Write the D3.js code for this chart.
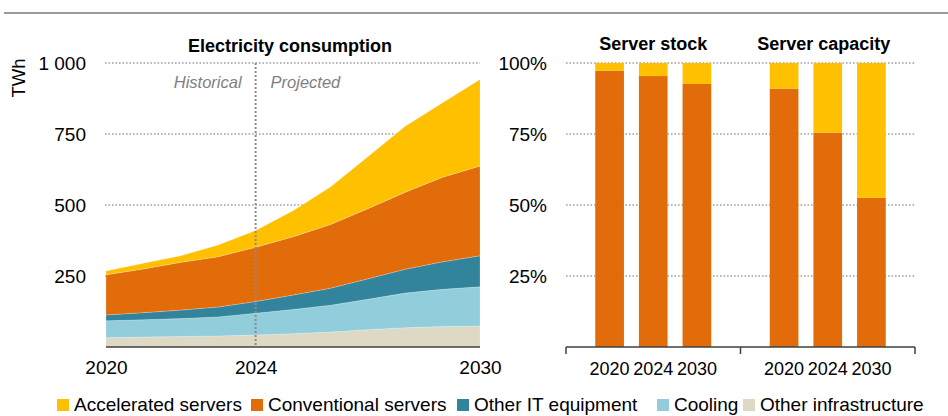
<!DOCTYPE html>
<html>
<head>
<meta charset="utf-8">
<script src="https://cdn.jsdelivr.net/npm/d3@7"></script>
<style>
  body { margin: 0; background: #fff; }
  svg { display: block; font-family: "Liberation Sans", Arial, sans-serif; }
</style>
</head>
<body>
<svg id="chart" width="948" height="416"></svg>
<script>
// electricity consumption by data centre component, TWh
var years = [2020, 2021, 2022, 2023, 2024, 2025, 2026, 2027, 2028, 2029, 2030];
var otherInfrastructure = [33, 35, 37, 39, 42, 47, 53, 61, 68, 72, 74];
var cooling = [59, 61, 63, 67, 77, 85, 94, 107, 122, 131, 138];
var otherIT = [21, 25, 30, 35, 41, 51, 60, 72, 84, 97, 109];
var conventional = [141, 154, 168, 177, 191, 205, 224, 247, 271, 298, 316];
var accelerated = [14, 20, 23, 41, 59, 92, 132, 183, 232, 262, 305];

// server shares (% conventional, rest is accelerated)
var barYears = ["2020", "2024", "2030"];
var barGroups = ["Server stock", "Server capacity"];
var stockConventional = [97.3, 95.4, 92.6];
var capacityConventional = [91, 75.5, 52.5];

var leftTicks = [250, 500, 750, 1000];
var xTicks = [2020, 2024, 2030];
var rightTicks = [25, 50, 75, 100];

var seriesNames = ["Other infrastructure", "Cooling", "Other IT equipment", "Conventional servers", "Accelerated servers"];
var legendNames = ["Accelerated servers", "Conventional servers", "Other IT equipment", "Cooling", "Other infrastructure"];
var colors = {
  "Accelerated servers": "#ffc000",
  "Conventional servers": "#e26b0a",
  "Other IT equipment": "#31849b",
  "Cooling": "#92cddc",
  "Other infrastructure": "#ddd9c4"
};

var svg = d3.select("#chart");
var gridColor = "#a0a0a0";
var fmt = d3.formatLocale({ decimal: ".", thousands: " ", grouping: [3], currency: ["", ""] }).format(",");

// top rule
svg.append("line")
  .attr("x1", 4).attr("x2", 948).attr("y1", 13).attr("y2", 13)
  .attr("stroke", "#999").attr("stroke-width", 2);

//// left: stacked area
var x = d3.scaleLinear().domain([2020, 2030]).range([106, 480]);
var y = d3.scaleLinear().domain([0, 1000]).range([347, 63]);

var rows = years.map(function (yr, i) {
  return {
    year: yr,
    "Other infrastructure": otherInfrastructure[i],
    "Cooling": cooling[i],
    "Other IT equipment": otherIT[i],
    "Conventional servers": conventional[i],
    "Accelerated servers": accelerated[i]
  };
});
var stacked = d3.stack().keys(seriesNames)(rows);

var left = svg.append("g");

left.selectAll(".grid")
  .data(leftTicks)
  .join("line")
  .attr("class", "grid")
  .attr("x1", 105).attr("x2", 480)
  .attr("y1", d => y(d)).attr("y2", d => y(d))
  .attr("stroke", gridColor).attr("stroke-width", 1.6)
  .attr("stroke-dasharray", "1.6,1.9");

var area = d3.area()
  .x(d => x(d.data.year))
  .y0(d => y(d[0]))
  .y1(d => y(d[1]));

left.selectAll(".layer")
  .data(stacked)
  .join("path")
  .attr("class", "layer")
  .attr("d", area)
  .attr("fill", d => colors[d.key])
  .attr("stroke", "#fff").attr("stroke-opacity", 0.35).attr("stroke-width", 0.6);

// historical / projected divider
left.append("line")
  .attr("x1", x(2024)).attr("x2", x(2024))
  .attr("y1", y(1000)).attr("y2", y(0))
  .attr("stroke", "#8c8c8c").attr("stroke-width", 2)
  .attr("stroke-dasharray", "2,2");

left.append("text")
  .attr("x", x(2024) - 14).attr("y", 88)
  .attr("text-anchor", "end")
  .attr("font-style", "italic").attr("font-size", 16.5).attr("fill", "#7f7f7f")
  .text("Historical");
left.append("text")
  .attr("x", x(2024) + 15).attr("y", 88)
  .attr("font-style", "italic").attr("font-size", 16.5).attr("fill", "#7f7f7f")
  .text("Projected");

// baseline
left.append("line")
  .attr("x1", 106).attr("x2", 480).attr("y1", y(0)).attr("y2", y(0))
  .attr("stroke", "#404040").attr("stroke-width", 1.5);

var yAxis = d3.axisLeft(y).tickValues(leftTicks).tickSize(0).tickPadding(0).tickFormat(fmt);
left.append("g")
  .attr("transform", "translate(86,0)")
  .call(yAxis)
  .call(g => g.select(".domain").remove())
  .selectAll("text")
  .attr("font-size", 19).attr("fill", "#000").attr("font-family", "Liberation Sans, Arial, sans-serif");

var xAxis = d3.axisBottom(x).tickValues(xTicks).tickSize(0).tickPadding(0).tickFormat(d3.format("d"));
left.append("g")
  .attr("transform", "translate(0,360)")
  .call(xAxis)
  .call(g => g.select(".domain").remove())
  .selectAll("text")
  .attr("font-size", 19).attr("fill", "#000").attr("font-family", "Liberation Sans, Arial, sans-serif");

left.append("text")
  .attr("transform", "translate(25,78) rotate(-90)")
  .attr("text-anchor", "middle")
  .attr("font-size", 18.5)
  .text("TWh");

left.append("text")
  .attr("x", 290).attr("y", 52)
  .attr("text-anchor", "middle")
  .attr("font-weight", "bold").attr("font-size", 18)
  .text("Electricity consumption");

//// right: 100% stacked bars
var yR = d3.scaleLinear().domain([0, 100]).range([347, 63]);
var group = d3.scaleBand().domain(barGroups).range([566, 915]);
var inner = d3.scaleBand().domain(barYears).range([0, group.bandwidth()])
  .paddingInner(0.343).paddingOuter(0.67);

var right = svg.append("g");

right.selectAll(".grid")
  .data(rightTicks)
  .join("line")
  .attr("class", "grid")
  .attr("x1", 566).attr("x2", 915)
  .attr("y1", d => yR(d)).attr("y2", d => yR(d))
  .attr("stroke", gridColor).attr("stroke-width", 1.6)
  .attr("stroke-dasharray", "1.6,1.9");

var barData = [];
barGroups.forEach(function (grp, gi) {
  var vals = gi === 0 ? stockConventional : capacityConventional;
  barYears.forEach(function (yr, i) {
    barData.push({ group: grp, year: yr, key: "Conventional servers", y0: 0, y1: vals[i] });
    barData.push({ group: grp, year: yr, key: "Accelerated servers", y0: vals[i], y1: 100 });
  });
});

right.selectAll(".bar")
  .data(barData)
  .join("rect")
  .attr("class", "bar")
  .attr("x", d => group(d.group) + inner(d.year))
  .attr("width", inner.bandwidth())
  .attr("y", d => yR(d.y1))
  .attr("height", d => yR(d.y0) - yR(d.y1))
  .attr("fill", d => colors[d.key]);

var yAxisR = d3.axisLeft(yR).tickValues(rightTicks).tickSize(0).tickPadding(0).tickFormat(d => d + "%");
right.append("g")
  .attr("transform", "translate(547,0)")
  .call(yAxisR)
  .call(g => g.select(".domain").remove())
  .selectAll("text")
  .attr("font-size", 19).attr("fill", "#000").attr("font-family", "Liberation Sans, Arial, sans-serif");

// bottom axis with group separators
right.append("line")
  .attr("x1", 566).attr("x2", 915).attr("y1", 347).attr("y2", 347)
  .attr("stroke", "#404040").attr("stroke-width", 1.5);
right.selectAll(".sep")
  .data([566, group("Server capacity"), 915])
  .join("line")
  .attr("class", "sep")
  .attr("x1", d => d).attr("x2", d => d)
  .attr("y1", 347).attr("y2", 354)
  .attr("stroke", "#404040").attr("stroke-width", 1.5);

barGroups.forEach(function (grp) {
  var g = right.append("g").attr("transform", "translate(" + group(grp) + ",362)");
  g.call(d3.axisBottom(inner).tickSize(0).tickPadding(0))
    .call(g => g.select(".domain").remove())
    .selectAll("text")
    .attr("font-size", 18).attr("fill", "#000").attr("font-family", "Liberation Sans, Arial, sans-serif");
  right.append("text")
    .attr("x", group(grp) + group.bandwidth() / 2 + (grp === "Server capacity" ? -4 : 0))
    .attr("y", 50)
    .attr("text-anchor", "middle")
    .attr("font-weight", "bold").attr("font-size", 18)
    .text(grp);
});

//// legend
var legendX = [57, 251, 457, 657, 743];
var legend = svg.append("g");
var li = legend.selectAll(".item")
  .data(legendNames)
  .join("g")
  .attr("class", "item")
  .attr("transform", (d, i) => "translate(" + legendX[i] + ",0)");
li.append("rect")
  .attr("x", 0).attr("y", 399).attr("width", 12).attr("height", 12)
  .attr("fill", d => colors[d]);
li.append("text")
  .attr("x", 17).attr("y", 411)
  .attr("font-size", 19)
  .text(d => d);
</script>
</body>
</html>
